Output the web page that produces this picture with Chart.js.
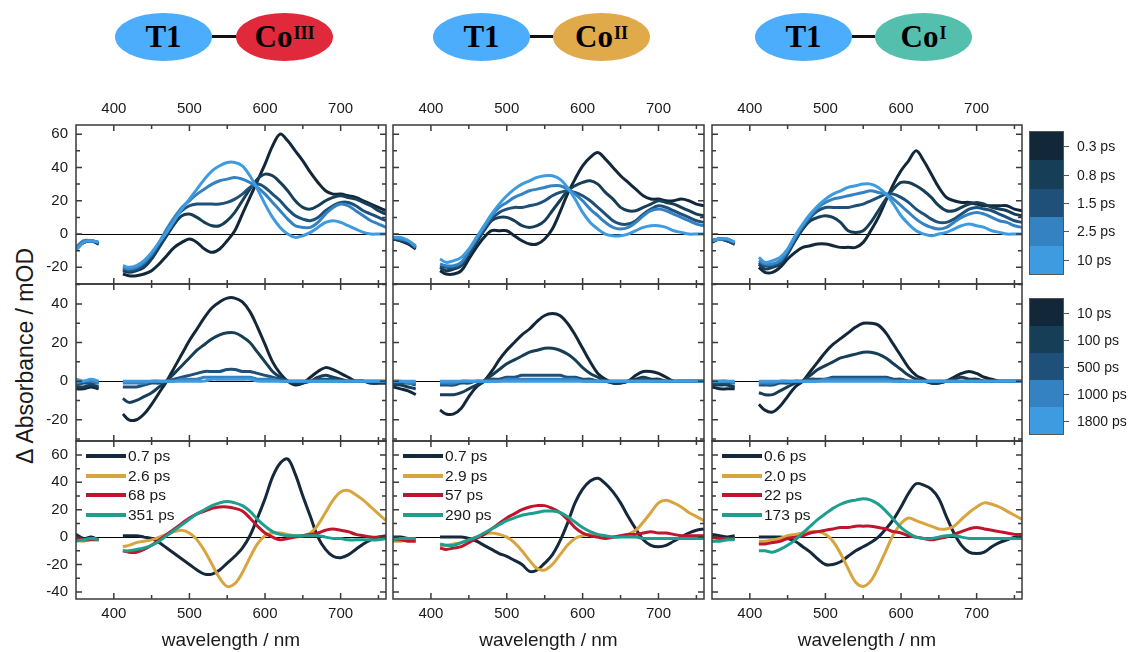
<!DOCTYPE html>
<html>
<head>
<meta charset="utf-8">
<script src="https://cdn.jsdelivr.net/npm/chart.js@4.4.1/dist/chart.umd.min.js"></script>
<style>
  body { margin: 0; width: 1128px; height: 652px; overflow: hidden; position: relative; background: #fff;
         font-family: "Liberation Sans", Arial, sans-serif; color: #1a1a1a; }
  canvas { position: absolute; }
  .blob { position: absolute; top: 13px; width: 97px; height: 48px; border-radius: 50%;
          display: flex; align-items: center; justify-content: center;
          font-family: "Liberation Serif", "DejaVu Serif", serif; font-weight: bold; font-size: 31px; color: #000; }
  .blob sup { font-size: 18px; position: relative; top: -4px; line-height: 0; margin-left: 1px; }
  .link { position: absolute; top: 35px; height: 3px; background: #111; }
  .cbar { position: absolute; left: 1029px; width: 35px; border: 1px solid #555; box-sizing: border-box; }
  .cbar div { width: 100%; }
  .clab { position: absolute; left: 1077px; font-size: 14px; line-height: 18px; white-space: nowrap; }
  .ctick { position: absolute; left: 1064px; width: 5px; height: 1px; background: #555; }
  .legend { position: absolute; font-size: 15.5px; }
  .legend div { height: 19.6px; line-height: 19.6px; white-space: nowrap; }
  .legend span { display: inline-block; width: 40px; height: 4px; vertical-align: middle; margin-right: 2px; position: relative; top: -1px; }
  .ytitle { position: absolute; left: 25px; top: 356px; transform: translate(-50%, -50%) rotate(-90deg);
            font-size: 23px; white-space: nowrap; }
</style>
</head>
<body>

<!-- header: T1 - Co complexes -->
<div class="blob" style="left:115px;background:#4cadfd">T1</div>
<div class="link" style="left:212px;width:24px"></div>
<div class="blob" style="left:236px;background:#e02a3c">Co<sup>III</sup></div>

<div class="blob" style="left:433px;background:#4cadfd">T1</div>
<div class="link" style="left:530px;width:23px"></div>
<div class="blob" style="left:553px;background:#e0a94a">Co<sup>II</sup></div>

<div class="blob" style="left:755px;background:#4cadfd">T1</div>
<div class="link" style="left:852px;width:23px"></div>
<div class="blob" style="left:875px;background:#55bfae">Co<sup>I</sup></div>

<div class="ytitle">Δ Absorbance / mOD</div>

<script>
// wavelength grid (nm); 396 is the gap around the pump scatter
const wavelength = [350,360,370,380,396,412,420,430,440,450,460,470,480,490,500,510,520,530,540,550,560,
                    570,580,590,600,610,620,630,640,650,660,670,680,690,700,710,720,730,740,750,760];

const earlyDelays = ['0.3 ps','0.8 ps','1.5 ps','2.5 ps','10 ps'];
const lateDelays = ['10 ps','100 ps','500 ps','1000 ps','1800 ps'];
const delayColors = ['#12283a','#173e57','#1f5079','#3482c2','#3e9bdf'];

const dasLabelsCoIII = ['0.7 ps','2.6 ps','68 ps','351 ps'];
const dasLabelsCoII = ['0.7 ps','2.9 ps','57 ps','290 ps'];
const dasLabelsCoI = ['0.6 ps','2.0 ps','22 ps','173 ps'];
const dasColors = ['#14293c','#d8a43e','#c1152d','#1d9e8e'];

const xTickLabels = [400,500,600,700];
const yTicksEarly = [-20,0,20,40,60];
const yTicksLate = [-20,0,20,40];
const yTicksDas = [-40,-20,0,20,40,60];

// ---- Co(III) ----
const coIII_early_03 = [-9,-5,-4,-6,null,-24,-25,-25,-24,-22,-18,-13,-8,-5,-3,-5,-9,-11,-9,-4,2,12,22,32,42,53,60,56,50,44,37,31,26,24,24,23,22,20,18,16,14];
const coIII_early_08 = [-9,-5,-4,-6,null,-22,-23,-22,-20,-15,-8,-1,6,11,12,10,7,5,5,8,13,20,27,33,36,35,31,26,20,16,15,17,20,22,23,22,21,19,17,14,12];
const coIII_early_15 = [-8,-5,-4,-5,null,-21,-22,-21,-18,-13,-6,2,9,14,17,18,18,18,18,19,21,24,28,30,28,24,20,15,11,9,8,10,14,17,19,19,17,14,12,10,8];
const coIII_early_25 = [-8,-4,-4,-5,null,-20,-21,-20,-17,-12,-5,3,10,16,20,24,27,30,32,33,34,33,31,28,24,19,14,9,5,4,4,7,12,16,18,17,14,11,8,6,4];
const coIII_early_10 = [-10,-5,-4,-5,null,-19,-20,-19,-16,-11,-5,1,8,15,21,27,33,38,41,43,43,41,35,27,18,10,4,0,-2,-1,1,4,7,8,7,5,3,1,0,0,0];

const coIII_late_10 = [-4,-4,-3,-4,null,-17,-20,-20,-17,-12,-6,0,7,14,21,27,33,38,41,43,43,41,36,28,19,10,4,0,-2,-1,2,5,7,6,4,2,0,0,-1,-1,-1];
const coIII_late_100 = [-3,-3,-2,-3,null,-9,-11,-10,-8,-6,-3,0,4,8,12,16,19,22,24,25,25,23,20,15,10,5,2,0,-1,-1,0,2,3,2,1,0,0,0,-1,-1,-1];
const coIII_late_500 = [-2,-1,-1,-1,null,-3,-3,-3,-2,-1,-1,0,1,2,3,4,5,5,5,6,6,5,5,4,3,2,1,0,0,0,0,1,1,1,0,0,0,0,0,0,0];
const coIII_late_1000 = [-1,0,0,-1,null,-1,-1,-1,-1,0,0,0,0,1,1,1,2,2,2,2,2,2,2,1,1,1,0,0,0,0,0,0,0,0,0,0,0,0,0,0,0];
const coIII_late_1800 = [1,0,1,0,null,0,0,0,0,0,0,0,0,0,0,0,0,1,1,1,1,1,1,0,0,0,0,0,0,0,0,0,0,0,0,0,0,0,0,0,0];

const coIII_das_1 = [2,-1,0,-2,null,1,1,1,0,-1,-4,-8,-12,-16,-20,-24,-27,-27,-24,-19,-14,-8,1,14,28,44,54,57,46,30,15,0,-9,-14,-15,-13,-9,-5,-2,0,1];
const coIII_das_2 = [-2,-3,-1,-2,null,-7,-6,-4,-3,-2,0,2,4,5,3,-2,-10,-20,-30,-36,-34,-26,-15,-5,1,3,3,2,1,1,3,9,18,27,33,34,31,27,22,17,12];
const coIII_das_3 = [-1,-2,-2,-2,null,-10,-11,-11,-9,-6,-2,2,6,10,14,17,19,21,22,22,21,19,14,8,3,0,-2,-1,0,1,2,3,5,6,5,4,2,1,0,0,0];
const coIII_das_4 = [-3,-2,-1,-2,null,-10,-10,-9,-8,-6,-3,1,5,9,13,17,20,23,25,26,25,23,19,13,8,4,2,1,1,1,1,1,0,-1,-1,-2,-2,-2,-2,-2,-1];

// ---- Co(II) ----
const coII_early_03 = [-3,-4,-6,-9,null,-22,-24,-24,-22,-15,-8,-2,2,2,2,-1,-4,-6,-6,-3,3,13,24,33,41,46,49,45,40,35,31,27,23,21,21,20,20,21,20,18,17];
const coII_early_08 = [-3,-4,-5,-8,null,-20,-22,-21,-19,-12,-5,2,8,10,10,8,5,4,5,8,14,20,26,29,31,32,30,25,21,16,14,14,16,18,20,19,18,16,14,12,11];
const coII_early_15 = [-2,-3,-5,-8,null,-19,-20,-20,-18,-11,-4,3,9,13,15,16,16,17,18,20,23,25,26,25,23,20,16,12,8,6,6,8,12,15,17,16,14,12,10,8,7];
const coII_early_25 = [-2,-3,-4,-8,null,-18,-19,-19,-17,-10,-3,4,11,16,19,22,24,26,27,28,29,29,27,24,20,15,11,7,4,3,4,7,11,14,15,14,12,10,8,6,5];
const coII_early_10 = [-2,-2,-4,-7,null,-15,-17,-16,-14,-9,-2,5,12,18,23,27,30,32,34,35,35,33,28,21,13,7,3,0,-1,-1,0,2,4,5,5,4,2,1,0,0,0];

const coII_late_10 = [-3,-4,-5,-7,null,-15,-17,-17,-14,-8,-3,0,5,11,16,20,24,27,31,34,35,34,30,24,17,10,4,1,-1,-1,0,3,5,5,4,2,0,0,0,0,0];
const coII_late_100 = [-2,-2,-3,-4,null,-7,-7,-7,-6,-4,-2,0,3,6,9,11,13,15,16,17,17,16,14,11,7,4,2,0,-1,-1,0,1,2,1,1,0,0,0,0,0,0];
const coII_late_500 = [-1,-1,-1,-2,null,-2,-2,-2,-1,-1,0,0,1,1,2,2,3,3,3,3,3,3,2,2,1,1,0,0,0,0,0,0,1,0,0,0,0,0,0,0,0];
const coII_late_1000 = [0,0,-1,-1,null,-1,-1,-1,0,0,0,0,0,0,1,1,1,1,1,1,1,1,1,1,0,0,0,0,0,0,0,0,0,0,0,0,0,0,0,0,0];
const coII_late_1800 = [0,0,0,0,null,0,0,0,0,0,0,0,0,0,0,0,0,0,0,0,0,0,0,0,0,0,0,0,0,0,0,0,0,0,0,0,0,0,0,0,0];

const coII_das_1 = [0,0,-1,-1,null,0,0,0,0,-1,-3,-6,-9,-12,-14,-17,-20,-25,-24,-19,-13,-3,10,25,35,41,43,39,33,25,15,6,-2,-6,-7,-6,-3,0,3,5,6];
const coII_das_2 = [-3,-3,-2,-2,null,-6,-6,-5,-4,-2,0,2,3,2,0,-4,-10,-17,-23,-24,-20,-13,-6,-1,1,2,1,0,0,1,2,5,11,18,25,27,25,22,18,15,12];
const coII_das_3 = [-2,-2,-3,-3,null,-8,-9,-8,-7,-4,-1,2,6,10,14,17,20,22,23,23,21,18,13,7,3,1,0,-1,0,1,2,2,3,4,3,3,2,1,1,1,1];
const coII_das_4 = [-2,-1,-1,-1,null,-5,-6,-6,-4,-2,0,3,6,9,12,14,16,17,18,19,19,18,15,11,7,4,2,1,0,0,0,0,-1,-1,-1,-1,-1,-1,-1,-1,-1];

// ---- Co(I) ----
const coI_early_03 = [-5,-3,-4,-6,null,-20,-23,-23,-20,-15,-11,-8,-7,-6,-6,-7,-8,-8,-8,-5,2,10,20,30,38,44,50,44,36,28,22,20,19,19,18,17,17,17,17,15,14];
const coI_early_08 = [-4,-3,-4,-6,null,-18,-21,-20,-18,-12,-4,3,8,10,11,10,7,2,1,2,7,14,21,27,31,31,29,26,22,17,14,14,16,18,19,18,16,15,14,12,11];
const coI_early_15 = [-4,-3,-4,-5,null,-17,-19,-19,-17,-11,-3,4,10,14,16,16,16,16,17,18,20,22,24,24,22,19,15,12,9,7,7,9,12,15,16,15,14,12,10,8,7];
const coI_early_25 = [-4,-3,-3,-5,null,-16,-18,-18,-16,-10,-2,5,11,16,19,21,22,23,24,25,26,25,24,21,17,13,9,6,4,3,4,7,10,12,13,12,10,8,7,5,4];
const coI_early_10 = [-4,-3,-3,-5,null,-14,-17,-16,-14,-9,-1,6,12,17,21,24,26,28,29,30,30,28,24,18,11,6,2,0,-1,0,1,3,5,6,5,4,2,1,0,0,0];

const coI_late_10 = [-3,-4,-4,-4,null,-12,-15,-16,-13,-8,-3,0,5,10,15,19,22,25,28,30,30,29,25,19,13,7,3,1,-1,-1,0,2,4,5,4,2,1,0,0,0,0];
const coI_late_100 = [-2,-2,-2,-3,null,-6,-7,-7,-5,-3,-1,0,3,6,8,10,12,13,14,15,15,14,12,9,6,3,1,0,-1,-1,0,1,2,1,1,0,0,0,0,0,0];
const coI_late_500 = [-1,-1,-1,-1,null,-2,-2,-2,-1,-1,0,0,1,1,1,2,2,2,2,2,2,2,2,1,1,0,0,0,0,0,0,0,0,0,0,0,0,0,0,0,0];
const coI_late_1000 = [0,0,0,-1,null,-1,-1,-1,0,0,0,0,0,0,1,1,1,1,1,1,1,1,1,0,0,0,0,0,0,0,0,0,0,0,0,0,0,0,0,0,0];
const coI_late_1800 = [0,0,0,0,null,0,0,0,0,0,0,0,0,0,0,0,0,0,0,0,0,0,0,0,0,0,0,0,0,0,0,0,0,0,0,0,0,0,0,0,0];

const coI_das_1 = [2,1,0,1,null,0,0,0,0,-1,-3,-7,-11,-16,-20,-20,-18,-14,-10,-7,-4,0,6,13,22,32,39,38,35,28,15,3,-6,-11,-12,-11,-7,-4,-2,0,0];
const coI_das_2 = [-3,-2,-2,-1,null,-3,-3,-2,-1,1,2,3,4,4,2,-3,-12,-23,-33,-36,-32,-22,-10,2,10,14,12,10,8,6,6,8,13,18,22,25,24,22,19,16,13];
const coI_das_3 = [0,-1,-1,-1,null,-5,-5,-4,-3,-1,0,1,3,4,5,6,7,7,8,8,8,7,6,4,3,1,0,-1,-2,-1,0,2,4,6,7,6,5,4,3,2,2];
const coI_das_4 = [-3,-3,-2,-2,null,-10,-10,-11,-9,-6,-2,3,8,13,17,21,24,26,27,28,27,24,19,13,7,3,0,-1,-1,0,1,1,0,-1,-1,-1,-1,-1,-1,-1,-1];

// layout of the plot boxes (px)
const colLeft = [76, 393, 712];
const colRight = [386, 704, 1022];
const rowTop = [125, 284, 441];
const rowBottom = [284, 441, 599];
const rowRange = [[-30, 65.5], [-31, 50.3], [-45.2, 70.2]];
const rowTicks = [yTicksEarly, yTicksLate, yTicksDas];

const panels = [
  [[coIII_early_03, coIII_early_08, coIII_early_15, coIII_early_25, coIII_early_10],
   [coII_early_03, coII_early_08, coII_early_15, coII_early_25, coII_early_10],
   [coI_early_03, coI_early_08, coI_early_15, coI_early_25, coI_early_10]],
  [[coIII_late_10, coIII_late_100, coIII_late_500, coIII_late_1000, coIII_late_1800],
   [coII_late_10, coII_late_100, coII_late_500, coII_late_1000, coII_late_1800],
   [coI_late_10, coI_late_100, coI_late_500, coI_late_1000, coI_late_1800]],
  [[coIII_das_1, coIII_das_2, coIII_das_3, coIII_das_4],
   [coII_das_1, coII_das_2, coII_das_3, coII_das_4],
   [coI_das_1, coI_das_2, coI_das_3, coI_das_4]]
];
const rowLabels = [[earlyDelays, earlyDelays, earlyDelays], [lateDelays, lateDelays, lateDelays],
                   [dasLabelsCoIII, dasLabelsCoII, dasLabelsCoI]];

Chart.defaults.font.family = '"Liberation Sans", Arial, sans-serif';
Chart.defaults.color = '#1a1a1a';

// zero line, box and inward ticks
const framePlugin = {
  id: 'frame',
  beforeDatasetsDraw(chart) {
    const { ctx, chartArea: a, scales } = chart;
    const y0 = Math.round(scales.y.getPixelForValue(0)) + 0.5;
    ctx.save();
    ctx.strokeStyle = '#000';
    ctx.lineWidth = 1;
    ctx.beginPath();
    ctx.moveTo(a.left, y0);
    ctx.lineTo(a.right, y0);
    ctx.stroke();
    ctx.restore();
  },
  afterDatasetsDraw(chart) {
    const { ctx, chartArea: a, scales } = chart;
    ctx.save();
    ctx.strokeStyle = '#3a3a3a';
    ctx.lineWidth = 1.5;
    ctx.strokeRect(a.left, a.top, a.right - a.left, a.bottom - a.top);
    ctx.beginPath();
    for (let v = 400; v < 760; v += 50) {
      const x = scales.x.getPixelForValue(v);
      const len = v % 100 === 0 ? 6 : 4;
      ctx.moveTo(x, a.top); ctx.lineTo(x, a.top + len);
      ctx.moveTo(x, a.bottom); ctx.lineTo(x, a.bottom - len);
    }
    for (let v = Math.ceil(scales.y.min / 10) * 10; v < scales.y.max; v += 10) {
      const y = scales.y.getPixelForValue(v);
      const len = v % 20 === 0 ? 6 : 4;
      ctx.moveTo(a.left, y); ctx.lineTo(a.left + len, y);
      ctx.moveTo(a.right, y); ctx.lineTo(a.right - len, y);
    }
    ctx.stroke();
    ctx.restore();
  }
};

function makePanel(row, col) {
  const L = colLeft[col], R = colRight[col], T = rowTop[row], B = rowBottom[row];
  const padL = 50, padT = 30, padR = 4, padB = row === 2 ? 53 : 30;
  const w = R - L + padL + padR, h = B - T + padT + padB;
  const canvas = document.createElement('canvas');
  canvas.width = w;
  canvas.height = h;
  canvas.style.left = (L - padL) + 'px';
  canvas.style.top = (T - padT) + 'px';
  canvas.style.width = w + 'px';
  canvas.style.height = h + 'px';
  document.body.appendChild(canvas);

  const series = panels[row][col];
  const labels = rowLabels[row][col];
  const colors = row === 2 ? dasColors : delayColors;
  const datasets = series.map((vals, i) => ({
    label: labels[i],
    data: wavelength.map((wl, k) => ({ x: wl, y: vals[k] })),
    borderColor: colors[i],
    backgroundColor: colors[i],
    borderWidth: 3,
    pointRadius: 0,
    tension: 0.35,
    spanGaps: false,
    order: series.length - 1 - i
  }));

  const tickFont = { size: 15 };
  new Chart(canvas, {
    type: 'line',
    data: { datasets },
    options: {
      responsive: false,
      animation: false,
      devicePixelRatio: 1,
      layout: { padding: { left: 0, right: padR, top: 0, bottom: 0 } },
      plugins: { legend: { display: false }, tooltip: { enabled: false } },
      scales: {
        x: {
          type: 'linear', position: 'bottom', min: 350, max: 760,
          grid: { display: false, drawTicks: false }, border: { display: false },
          ticks: { display: row === 2, font: tickFont, padding: 6 },
          afterBuildTicks: s => { s.ticks = xTickLabels.map(v => ({ value: v })); },
          afterFit: s => { s.height = padB; },
          title: { display: row === 2, text: 'wavelength / nm', font: { size: 19 }, padding: 0 }
        },
        xTop: {
          type: 'linear', position: 'top', min: 350, max: 760,
          grid: { display: false, drawTicks: false }, border: { display: false },
          ticks: { display: row === 0, font: tickFont, padding: 7 },
          afterBuildTicks: s => { s.ticks = xTickLabels.map(v => ({ value: v })); },
          afterFit: s => { s.height = padT; }
        },
        y: {
          type: 'linear', position: 'left', min: rowRange[row][0], max: rowRange[row][1],
          grid: { display: false, drawTicks: false }, border: { display: false },
          ticks: { display: col === 0, font: tickFont, padding: 8 },
          afterBuildTicks: s => { s.ticks = rowTicks[row].map(v => ({ value: v })); },
          afterFit: s => { s.width = padL; }
        }
      }
    },
    plugins: [framePlugin]
  });
}

for (let r = 0; r < 3; r++) for (let c = 0; c < 3; c++) makePanel(r, c);

// colour bars for the delay times (rows 1 and 2)
function makeColorBar(top, height, labels) {
  const bar = document.createElement('div');
  bar.className = 'cbar';
  bar.style.top = top + 'px';
  bar.style.height = height + 'px';
  const seg = (height - 2) / labels.length;
  labels.forEach((lab, i) => {
    const s = document.createElement('div');
    s.style.height = seg + 'px';
    s.style.background = delayColors[i];
    bar.appendChild(s);
    const yc = top + 1 + seg * (i + 0.5);
    const t = document.createElement('div');
    t.className = 'ctick';
    t.style.top = Math.round(yc) + 'px';
    document.body.appendChild(t);
    const l = document.createElement('div');
    l.className = 'clab';
    l.style.top = (yc - 9) + 'px';
    l.textContent = lab;
    document.body.appendChild(l);
  });
  document.body.appendChild(bar);
}
makeColorBar(131, 144, earlyDelays);
makeColorBar(298, 137, lateDelays);

// legends of the bottom row
rowLabels[2].forEach((labs, c) => {
  const box = document.createElement('div');
  box.className = 'legend';
  box.style.left = (colLeft[c] + 10) + 'px';
  box.style.top = (rowTop[2] + 5) + 'px';
  labs.forEach((lab, i) => {
    const item = document.createElement('div');
    const sw = document.createElement('span');
    sw.style.background = dasColors[i];
    item.appendChild(sw);
    item.appendChild(document.createTextNode(lab));
    box.appendChild(item);
  });
  document.body.appendChild(box);
});
</script>
</body>
</html>
